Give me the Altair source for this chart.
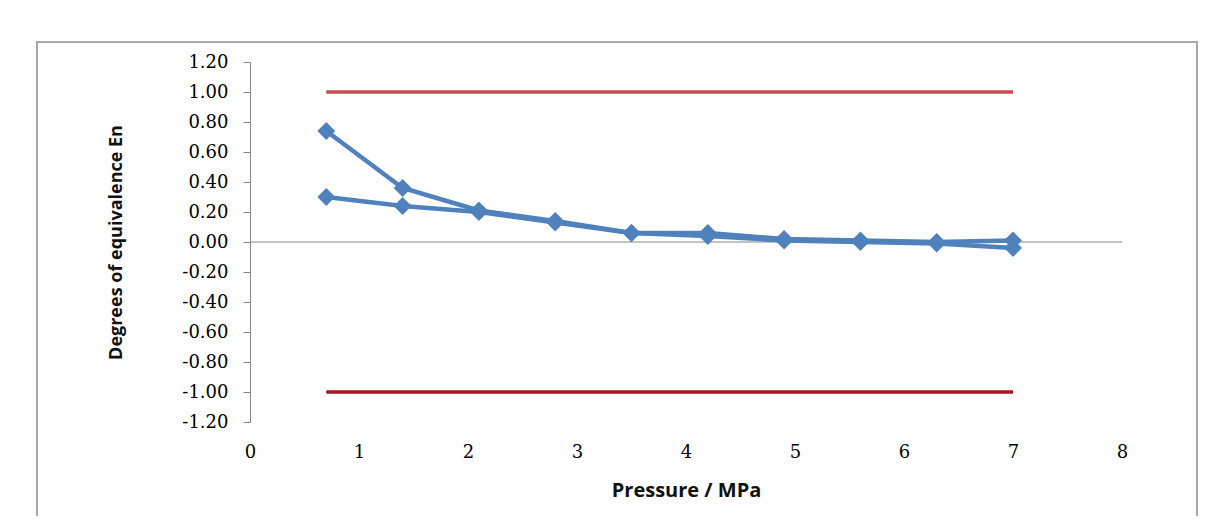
import altair as alt
import pandas as pd

# ---- data ----
pressure = [0.7, 1.4, 2.1, 2.8, 3.5, 4.2, 4.9, 5.6, 6.3, 7.0]
en_a = [0.74, 0.36, 0.21, 0.14, 0.06, 0.06, 0.02, 0.01, 0.00, 0.01]
en_b = [0.30, 0.24, 0.20, 0.13, 0.06, 0.04, 0.01, 0.00, -0.01, -0.04]
limits = [1.0, -1.0]
limit_names = ["upper", "lower"]
limit_colors = ["#c0504d", "#a8171f"]
y_ticks = [-1.2, -1.0, -0.8, -0.6, -0.4, -0.2, 0.0, 0.2, 0.4, 0.6, 0.8, 1.0, 1.2]
x_ticks = [0, 1, 2, 3, 4, 5, 6, 7, 8]

series_df = pd.DataFrame({
    "pressure": pressure * 2,
    "en": en_a + en_b,
    "series": ["A"] * len(pressure) + ["B"] * len(pressure),
})
limit_df = pd.DataFrame({
    "limit": limits,
    "name": limit_names,
    "x0": [min(pressure)] * 2,
    "x1": [max(pressure)] * 2,
})
zero_df = pd.DataFrame({"x0": [x_ticks[0]], "x1": [x_ticks[-1]], "y": [0.0]})

BLUE = "#4f81bd"
AX = "#868686"

x_scale = alt.Scale(domain=[0, 8], nice=False, zero=False)
y_scale = alt.Scale(domain=[-1.2, 1.2], nice=False, zero=False)

x_axis = alt.Axis(
    values=x_ticks, tickCount=len(x_ticks), format="d", grid=False,
    domain=False, ticks=False, tickSize=0,
    labelFont="DejaVu Serif", labelFontSize=18, labelColor="#000000",
    labelPadding=21, labelAngle=0, labelFlush=False, labelOverlap=False,
    title="Pressure / MPa", titleFont="Open Sans", titleFontSize=20,
    titleFontWeight="bold", titleColor="#111111",
    titleY=68, titleBaseline="middle",
)
y_axis = alt.Axis(
    values=y_ticks, tickCount=len(y_ticks), format=".2f", grid=False,
    labelExpr="replace(datum.label, '\u2212', '-')",
    labelFlush=False, labelOverlap=False,
    domain=True, domainColor=AX, domainWidth=1,
    ticks=True, tickColor=AX, tickSize=7, tickWidth=1,
    labelFont="DejaVu Serif", labelFontSize=18, labelColor="#000000",
    labelPadding=15,
    title="Degrees of equivalence En", titleFont="Open Sans", titleFontSize=18,
    titleFontWeight="bold", titleColor="#111111",
    titleX=-134, titleY=180, titleBaseline="middle",
)

frame = alt.Chart(zero_df).mark_rect(
    filled=False, stroke="#a6a6a6", strokeWidth=2
).encode(
    x=alt.value(-213), x2=alt.value(947), y=alt.value(-20), y2=alt.value(470)
)

zero_line = alt.Chart(zero_df).mark_rule(color=AX, strokeWidth=1).encode(
    x=alt.X("x0:Q", scale=x_scale, axis=x_axis),
    x2="x1:Q",
    y=alt.Y("y:Q", scale=y_scale, axis=y_axis),
)

limit_lines = alt.Chart(limit_df).mark_rule(strokeWidth=3.5).encode(
    x=alt.X("x0:Q", scale=x_scale),
    x2="x1:Q",
    y=alt.Y("limit:Q", scale=y_scale),
    color=alt.Color("name:N", scale=alt.Scale(domain=limit_names, range=limit_colors), legend=None),
)

lines = alt.Chart(series_df).mark_line(color=BLUE, strokeWidth=4.5).encode(
    x=alt.X("pressure:Q", scale=x_scale),
    y=alt.Y("en:Q", scale=y_scale),
    detail="series:N",
)

points = alt.Chart(series_df).mark_point(
    shape="diamond", filled=True, size=320, color=BLUE, opacity=1
).encode(
    x=alt.X("pressure:Q", scale=x_scale),
    y=alt.Y("en:Q", scale=y_scale),
    detail="series:N",
)

chart = alt.layer(frame, zero_line, limit_lines, lines, points).properties(
    width=872,
    height=360,
    autosize=alt.AutoSizeParams(type="none"),
    padding={"left": 242, "top": 54, "right": 81, "bottom": 94},
    background="white",
).configure_view(strokeWidth=0)

chart.save("out.html", embed_options={"renderer": "svg", "actions": False})
